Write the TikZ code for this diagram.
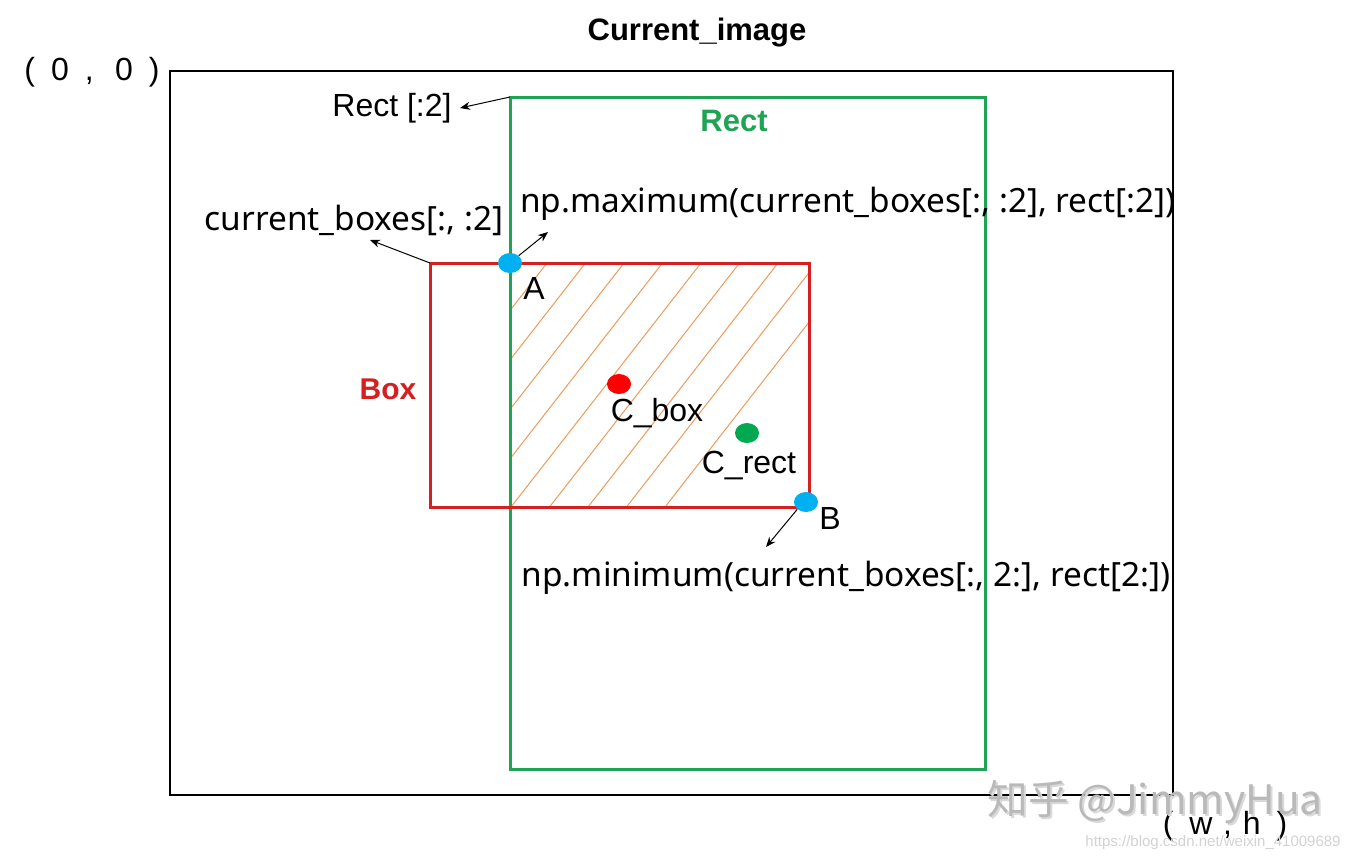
\documentclass[tikz,border=0pt]{standalone}
\usepackage{fontspec}
\setmainfont{Liberation Sans}
\newfontfamily\npfont{Noto Sans}
\newfontfamily\cjk{Noto Sans CJK SC}
\usetikzlibrary{arrows.meta,shapes.geometric}
\definecolor{boxred}{HTML}{D42020}
\definecolor{rectgreen}{HTML}{1FA355}
\definecolor{dotblue}{HTML}{00B0F0}
\definecolor{dotred}{HTML}{FF0000}
\definecolor{dotgreen}{HTML}{00A850}
\definecolor{hatch}{HTML}{EE9A5A}
\tikzset{
  lbl/.style={inner sep=0pt, font=\fontsize{16}{18}\selectfont},
  nplbl/.style={inner sep=0pt, font=\npfont\fontsize{16.7}{19}\selectfont},
  ptr/.style={-{Stealth[length=5pt,width=4pt]}, line width=0.5pt},
  dot/.style={ellipse, minimum width=12pt, minimum height=10pt, inner sep=0pt},
}
\begin{document}
\begin{tikzpicture}[x=0.5pt,y=-0.5pt]
\useasboundingbox (0,0) rectangle (1358,863);
% hatch
\begin{scope}
\clip (510,263) rectangle (809,507);
\foreach \i in {-6,...,8} {
  \draw[hatch, line width=0.5pt] ({547+38.5*\i},263) -- ({547+38.5*\i-190},507);
}
\end{scope}
% frames
\draw[line width=1pt] (170,71) rectangle (1173,795);
\draw[rectgreen, line width=1.5pt] (510,97) rectangle (985,769);
\draw[boxred, line width=1.5pt] (430,263) rectangle (809,507);
% points
\node[dot, fill=dotblue] (A) at (510,263) {};
\node[dot, fill=dotblue] (B) at (806,502) {};
\node[dot, fill=dotred] (cbox) at (619,384) {};
\node[dot, fill=dotgreen] (crect) at (747,433) {};
% labels
\node[inner sep=0pt, font=\bfseries\fontsize{15.5}{18}\selectfont] (title) at (697,33) {Current\_image};
\node[lbl] (orig) at (92,72) {(\,\,\,0\,\,\,,\,\,\,\,0\,\,\,)};
\node[lbl] (wh) at (1225,826) {(\,\,\,w\,\,,\,\,h\,\,\,)};
\node[lbl, boxred, font=\bfseries\fontsize{15}{18}\selectfont] (boxl) at (388,389) {Box};
\node[lbl, rectgreen, font=\bfseries\fontsize{15.5}{18}\selectfont] (rectl) at (734,121) {Rect};
\node[lbl] (Al) at (534,288) {A};
\node[lbl] (Bl) at (830,518) {B};
\node[lbl] (cboxl) at (657,413) {C\_box};
\node[lbl] (crectl) at (749,465) {C\_rect};
\node[lbl] (r2) at (392,108) {Rect [:2]};
\node[nplbl] (cb) at (354,220) {current\_boxes[:, :2]};
\node[nplbl] (npmax) at (848,204) {np.maximum(current\_boxes[:, :2], rect[:2])};
\node[nplbl] (npmin) at (846,578) {np.minimum(current\_boxes[:, 2:], rect[2:])};
% pointers
\coordinate (gtl) at (510,97);
\coordinate (rtl) at (430,263);
\draw[ptr] (gtl) -- (460,108);
\draw[ptr] (rtl) -- (370,240);
\draw[ptr] (A.north east) -- (548,232);
\draw[ptr] (B.south west) -- (766,547);
% watermark
\node[inner sep=0pt, text=gray!30, font=\cjk\fontsize{20.3}{23}\selectfont] at (1157,804) {知乎 @JimmyHua};
\node[inner sep=0pt, text=gray!55, font=\cjk\fontsize{20.3}{23}\selectfont] (wm) at (1155,802) {知乎 @JimmyHua};
\node[inner sep=0pt, text=gray!35, font=\fontsize{7.5}{9}\selectfont] (url) at (1213,843) {https://blog.csdn.net/weixin\_41009689};
\end{tikzpicture}
\end{document}
